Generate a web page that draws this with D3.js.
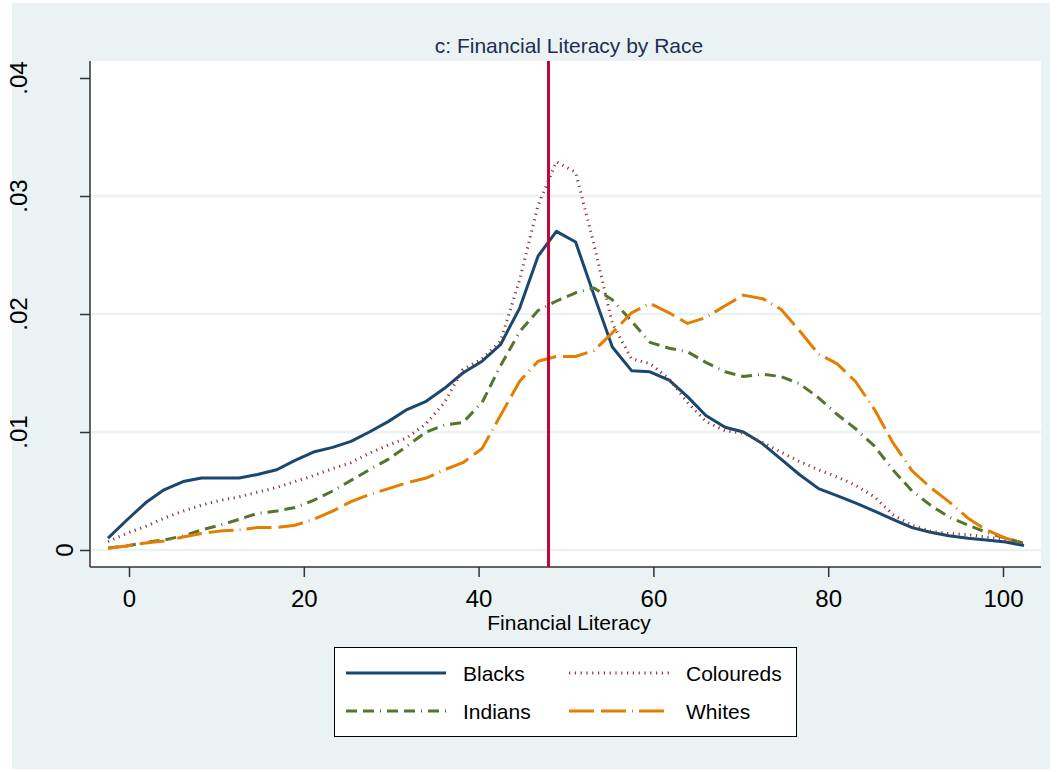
<!DOCTYPE html>
<html>
<head>
<meta charset="utf-8">
<script src="https://cdn.jsdelivr.net/npm/d3@7"></script>
<style>
  body { margin: 0; background: #ffffff; }
  svg { display: block; font-family: "Liberation Sans", Arial, sans-serif; }
</style>
</head>
<body>
<div id="chart"></div>
<script>
// Evaluation points of the density (Financial Literacy score)
const grid = [-2.4, -0.3, 1.9, 4.0, 6.2, 8.3, 10.4, 12.6, 14.7, 16.9,
              19.0, 21.1, 23.3, 25.4, 27.5, 29.7, 31.8, 34.0, 36.1, 38.2,
              40.4, 42.5, 44.7, 46.8, 48.9, 51.1, 53.2, 55.3, 57.5, 59.6,
              61.8, 63.9, 66.0, 68.2, 70.3, 72.5, 74.6, 76.7, 78.9, 81.0,
              83.1, 85.3, 87.4, 89.6, 91.7, 93.8, 96.0, 98.1, 100.3, 102.4]

const blacks = [0.0010, 0.0025, 0.0040, 0.0051, 0.0058, 0.0061, 0.0061, 0.0061, 0.0064, 0.0068,
                0.0076, 0.0083, 0.0087, 0.0092, 0.0100, 0.0109, 0.0119, 0.0126, 0.0137, 0.0150,
                0.0160, 0.0174, 0.0205, 0.0249, 0.0270, 0.0261, 0.0216, 0.0172, 0.0152, 0.0151,
                0.0144, 0.0130, 0.0114, 0.0104, 0.0100, 0.0090, 0.0077, 0.0064, 0.0052, 0.0046,
                0.0040, 0.0033, 0.0026, 0.0019, 0.0015, 0.0012, 0.0010, 0.00085, 0.00068, 0.00038]

const coloureds = [0.0007, 0.0014, 0.0020, 0.0027, 0.0033, 0.0038, 0.0042, 0.0045, 0.0049, 0.0053,
                   0.0058, 0.0063, 0.0069, 0.0074, 0.0082, 0.0089, 0.0095, 0.0107, 0.0125, 0.0153,
                   0.0162, 0.0177, 0.0229, 0.0292, 0.0329, 0.0320, 0.0259, 0.0192, 0.0162, 0.0158,
                   0.0145, 0.0125, 0.0109, 0.0101, 0.0099, 0.0091, 0.0083, 0.0075, 0.0068, 0.0062,
                   0.0055, 0.0045, 0.0030, 0.0021, 0.0016, 0.0014, 0.0013, 0.0011, 0.00085, 0.00057]

const indians = [0.00017, 0.00034, 0.00064, 0.00085, 0.0012, 0.0017, 0.0021, 0.0026, 0.0031, 0.0033,
                 0.0036, 0.0042, 0.0050, 0.0059, 0.0068, 0.0077, 0.0088, 0.0100, 0.0106, 0.0108,
                 0.0125, 0.0156, 0.0185, 0.0203, 0.0211, 0.0218, 0.0222, 0.0212, 0.0194, 0.0176,
                 0.0171, 0.0168, 0.0159, 0.0151, 0.0147, 0.0149, 0.0147, 0.0141, 0.0129, 0.0115,
                 0.0103, 0.0088, 0.0068, 0.0050, 0.0038, 0.0028, 0.0021, 0.0015, 0.0010, 0.00057]

const whites = [0.00014, 0.00034, 0.0006, 0.00076, 0.0011, 0.0014, 0.0016, 0.0017, 0.0019, 0.0019,
                0.0021, 0.0026, 0.0033, 0.0041, 0.0047, 0.0052, 0.0057, 0.0061, 0.0068, 0.0074,
                0.0086, 0.0114, 0.0143, 0.0160, 0.0164, 0.0164, 0.0169, 0.0184, 0.0201, 0.0209,
                0.0201, 0.0192, 0.0197, 0.0207, 0.0216, 0.0213, 0.0204, 0.0186, 0.0166, 0.0158,
                0.0143, 0.0119, 0.0091, 0.0067, 0.0053, 0.0041, 0.0027, 0.0017, 0.0010, 0.00057]

const xTicks = [0, 20, 40, 60, 80, 100]
const yTicks = [0, 0.01, 0.02, 0.03, 0.04]
const yTickLabels = ["0", ".01", ".02", ".03", ".04"]
const gridTicks = [0, 0.01, 0.02, 0.03]
const meanLine = 48.0

const series = [
  { name: "Blacks",    values: blacks,    color: "#1a476f", dash: null },
  { name: "Coloureds", values: coloureds, color: "#90353b", dash: "1.2,4.6" },
  { name: "Indians",   values: indians,   color: "#55752f", dash: "11,6,11,6,1,6" },
  { name: "Whites",    values: whites,    color: "#e37e00", dash: "25,7,25,6,1,6" }
]

const WIDTH = 1062
const HEIGHT = 772
const plot = { left: 90, right: 1041, top: 61, bottom: 567 }

const svg = d3.select("#chart")
  .append("svg")
  .attr("width", WIDTH)
  .attr("height", HEIGHT)

// outer graph region
svg.append("rect")
  .attr("x", 12).attr("y", 3)
  .attr("width", 1038).attr("height", 766)
  .attr("fill", "#eaf2f3")

// plot region
svg.append("rect")
  .attr("x", plot.left).attr("y", plot.top)
  .attr("width", plot.right - plot.left).attr("height", plot.bottom - plot.top)
  .attr("fill", "#ffffff")

const x = d3.scaleLinear().domain([0, 100]).range([129, 1003])
const y = d3.scaleLinear().domain([0, 0.04]).range([550, 78])

// grid lines
svg.append("g")
  .selectAll("line")
  .data(gridTicks)
  .enter()
  .append("line")
  .attr("x1", plot.left).attr("x2", plot.right)
  .attr("y1", d => y(d)).attr("y2", d => y(d))
  .style("stroke", "#eaf2f3")
  .style("stroke-width", 2.5)

// axes (ticks from d3, axis lines along plot edges)
const yAxis = svg.append("g")
  .attr("transform", `translate(${plot.left},0)`)
  .call(d3.axisLeft(y).tickValues(yTicks).tickSize(10).tickSizeOuter(0).tickFormat(""))
yAxis.select(".domain").remove()
yAxis.selectAll(".tick line").style("stroke", "#333").style("stroke-width", 1.5)

const xAxis = svg.append("g")
  .attr("transform", `translate(0,${plot.bottom})`)
  .call(d3.axisBottom(x).tickValues(xTicks).tickSize(10).tickSizeOuter(0).tickPadding(10))
xAxis.select(".domain").remove()
xAxis.selectAll(".tick line").style("stroke", "#333").style("stroke-width", 1.5)
xAxis.selectAll(".tick text")
  .attr("dy", null)
  .attr("y", 40)
  .style("font-size", "24px")
  .style("font-family", "'Liberation Sans', Arial, sans-serif")
  .style("fill", "#000")

svg.append("line")
  .attr("x1", plot.left).attr("x2", plot.left)
  .attr("y1", plot.top).attr("y2", plot.bottom)
  .style("stroke", "#333").style("stroke-width", 1.5)
svg.append("line")
  .attr("x1", plot.left).attr("x2", plot.right)
  .attr("y1", plot.bottom).attr("y2", plot.bottom)
  .style("stroke", "#333").style("stroke-width", 1.5)

// rotated y tick labels
svg.append("g")
  .selectAll("text")
  .data(yTicks)
  .enter()
  .append("text")
  .attr("transform", (d, i) => `translate(${yTickLabels[i] === "0" ? 73 : 27},${y(d)}) rotate(-90)`)
  .attr("text-anchor", "middle")
  .style("font-size", "24px")
  .style("fill", "#000")
  .text((d, i) => yTickLabels[i])

// density curves
const line = d3.line()
  .x((d, i) => x(grid[i]))
  .y(d => y(d))

svg.append("g")
  .selectAll("path")
  .data(series)
  .enter()
  .append("path")
  .attr("d", d => line(d.values))
  .style("fill", "none")
  .style("stroke", d => d.color)
  .style("stroke-width", 3)
  .style("stroke-linejoin", "round")
  .style("stroke-dasharray", d => d.dash)

// vertical reference line
svg.append("line")
  .attr("x1", x(meanLine)).attr("x2", x(meanLine))
  .attr("y1", plot.top).attr("y2", plot.bottom)
  .style("stroke", "#c10534")
  .style("stroke-width", 3)

// titles
svg.append("text")
  .attr("x", 569).attr("y", 53)
  .attr("text-anchor", "middle")
  .style("font-size", "21px")
  .style("fill", "#1e2d53")
  .text("c: Financial Literacy by Race")

svg.append("text")
  .attr("x", 569).attr("y", 630)
  .attr("text-anchor", "middle")
  .style("font-size", "21px")
  .style("fill", "#000")
  .text("Financial Literacy")

// legend
const legend = svg.append("g")
legend.append("rect")
  .attr("x", 334.5).attr("y", 647.5)
  .attr("width", 462).attr("height", 89)
  .attr("fill", "#ffffff")
  .attr("stroke", "#000")
  .attr("stroke-width", 1)

const legendItems = legend.selectAll("g.item")
  .data(series)
  .enter()
  .append("g")
  .attr("class", "item")
  .attr("transform", (d, i) => `translate(${i % 2 === 0 ? 346 : 569},${i < 2 ? 673 : 711})`)

legendItems.append("line")
  .attr("x1", 0).attr("x2", 100)
  .style("stroke", d => d.color)
  .style("stroke-width", 3)
  .style("stroke-dasharray", d => d.dash)

legendItems.append("text")
  .attr("x", 117).attr("y", 8)
  .style("font-size", "21px")
  .style("fill", "#000")
  .text(d => d.name)
</script>
</body>
</html>
